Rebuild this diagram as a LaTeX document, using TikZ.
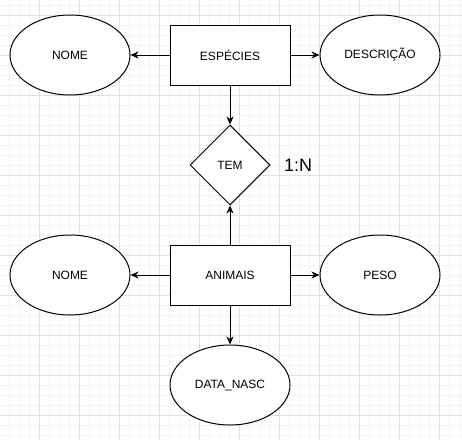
\documentclass[tikz,border=0pt]{standalone}
\usepackage{fontspec}
\setmainfont{Liberation Sans}
\usetikzlibrary{shapes.geometric,arrows.meta}
\definecolor{gridminor}{HTML}{F4F4F4}
\definecolor{gridmajor}{HTML}{E0E0E0}
\begin{document}
\begin{tikzpicture}[x=1pt,y=-1pt,
  ent/.style={draw=black,line width=1pt,fill=white,rectangle,minimum width=120pt,minimum height=60pt,inner sep=0pt,font=\fontsize{12}{14}\selectfont},
  attr/.style={draw=black,line width=1pt,fill=white,ellipse,minimum width=120pt,minimum height=80pt,inner sep=0pt,font=\fontsize{12}{14}\selectfont},
  rel/.style={draw=black,line width=1pt,fill=white,diamond,aspect=1,minimum width=80pt,minimum height=80pt,inner sep=0pt,font=\fontsize{12}{14}\selectfont},
  conn/.style={draw=black,line width=1pt,-{Stealth[length=8pt,width=7pt,inset=2.5pt]}}
]
\useasboundingbox (0,0) rectangle (462,439);
\fill[white] (0,0) rectangle (462,439);
% grid
\foreach \k in {1,...,46} {\draw[gridminor,line width=0.8pt] ({10*\k-0.5},0) -- ({10*\k-0.5},439);}
\foreach \k in {0,...,43} {\draw[gridminor,line width=0.8pt] (0,{10*\k+5.5}) -- (462,{10*\k+5.5});}
\foreach \k in {1,...,11} {\draw[gridmajor,line width=0.8pt] ({40*\k-0.5},0) -- ({40*\k-0.5},439);}
\foreach \k in {0,...,10} {\draw[gridmajor,line width=0.8pt] (0,{40*\k+15.5}) -- (462,{40*\k+15.5});}
% nodes
\node[ent] (esp) at (230,55) {ESPÉCIES};
\node[attr] (nome1) at (70,55) {NOME};
\node[attr] (desc) at (380,55) {DESCRIÇÃO};
\node[rel] (tem) at (230,165) {TEM};
\node[font=\fontsize{18}{20}\selectfont,anchor=west,inner sep=0pt] (card) at (284,165) {1:N};
\node[ent] (ani) at (230,275) {ANIMAIS};
\node[attr] (nome2) at (70,275) {NOME};
\node[attr] (peso) at (380,275) {PESO};
\node[attr] (data) at (230,385) {DATA\_NASC};
% connectors
\draw[conn] (esp.west) -- (nome1.east);
\draw[conn] (esp.east) -- (desc.west);
\draw[conn] (esp.south) -- (tem.north);
\draw[conn] (ani.north) -- (tem.south);
\draw[conn] (ani.west) -- (nome2.east);
\draw[conn] (ani.east) -- (peso.west);
\draw[conn] (ani.south) -- (data.north);
\end{tikzpicture}
\end{document}
